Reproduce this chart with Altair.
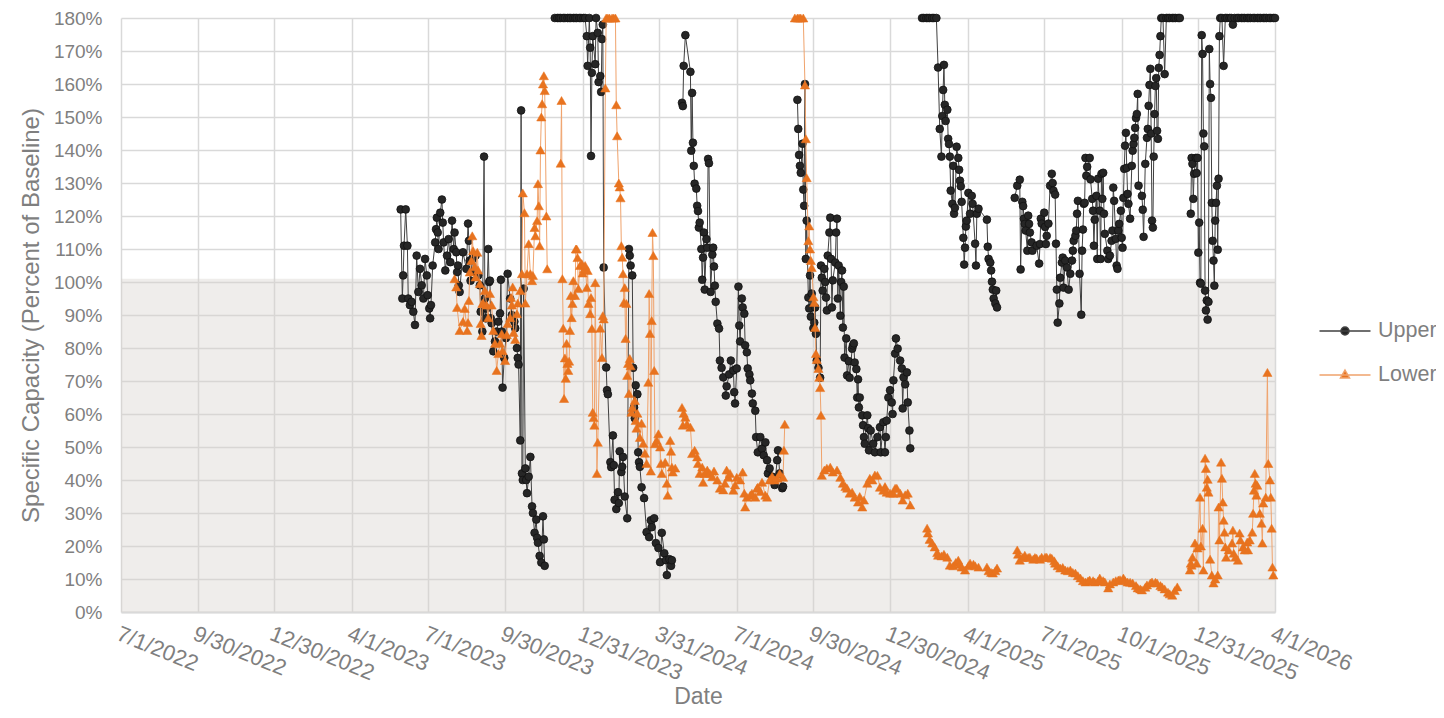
import altair as alt
import pandas as pd

BASE = pd.Timestamp("2022-07-01")

# ---- axis ticks ----
tick_dates = ["2022-07-01", "2022-09-30", "2022-12-30", "2023-04-01", "2023-07-01",
              "2023-09-30", "2023-12-31", "2024-03-31", "2024-07-01", "2024-09-30",
              "2024-12-30", "2025-04-01", "2025-07-01", "2025-10-01", "2025-12-31",
              "2026-04-01"]
y_ticks = list(range(0, 181, 10))
series_names = ["Upper", "Lower"]
band_lo = [0]
band_hi = [101]

# ---- Upper series (days since 2022-07-01, percent of baseline), one pair per unbroken run ----
u1_days = [332, 334, 335, 336, 338, 340, 341, 343, 345, 347, 349, 351, 353, 355, 357, 359, 361, 363, 364, 366,
           367, 368, 370, 373, 374, 375, 376, 377, 379, 381, 382, 383, 385, 387, 389, 391, 393, 395, 396, 398,
           399, 400, 401, 402, 406, 410, 412, 413, 414, 415, 417, 419, 421, 424, 426, 427, 429, 431, 432, 433,
           434, 436, 437, 438, 439, 440, 442, 444, 446, 448, 450, 451, 452, 453, 455, 457, 459, 462, 464, 467,
           468, 470, 471, 472, 474, 475, 476, 477, 478, 480, 481, 482, 484, 486, 488, 489, 491, 493, 494, 495,
           497, 499, 501, 502, 503]
u1_vals = [122, 95, 102, 111, 122, 111, 95, 93, 94, 91, 87, 108, 97, 104, 99, 95, 107, 102, 96, 92,
           89, 93, 105, 112, 116, 119.5, 115, 110, 121, 125, 118, 112, 103.5, 108, 113, 106, 118.6, 110, 115, 109,
           103, 105, 99, 97, 109, 104, 117.7, 112.5, 106.5, 100.4, 107, 103, 108, 102, 99, 91, 85, 138, 95, 89,
           92, 110, 100, 100.4, 89, 87.5, 79, 82, 85, 88, 90.5, 100.7, 85, 68, 77, 83, 102.5, 95, 90, 88,
           86, 80, 77, 75, 52, 152, 42, 40, 98, 43.5, 40, 36, 41, 47, 32, 30, 24, 28, 22.5, 21,
           17, 15, 29, 22, 14]

u2_days = [515, 518, 520, 522, 525, 527, 530, 532, 534, 537, 539, 541, 544, 546, 549, 551,
           553, 554, 556, 557, 558, 559, 560, 563, 564, 566, 567, 569, 570, 571, 572, 573, 576, 577, 578, 581,
           582, 584, 585, 586, 588, 590, 591, 592, 594, 595, 596, 598, 601, 603, 604, 605, 607, 608, 609, 610,
           611, 613, 614, 615, 616, 618, 621, 624, 627, 629, 630, 633, 635, 638, 640, 642, 645, 647, 648, 651,
           653, 654]
u2_vals = [180, 180, 180, 180, 180, 180, 180, 180, 180, 180, 180, 180, 180, 180, 180, 180,
           174.5, 165.5, 180, 171, 138.2, 163.4, 174.5, 166, 180, 175.5, 160.6, 162.4, 157.6, 173.6, 178, 104.4,
           74.1, 67.2, 66, 45.4, 43.9, 53.5, 44.5, 34, 31.2, 36.3, 33, 48.7, 42.4, 44, 47, 35, 28.4, 110,
           108, 105, 102, 74, 62, 58.7, 68.7, 66, 48.4, 45.4, 44, 37.8, 34.5, 24.2, 22.7, 27.8, 25.7, 28.4,
           20.9, 19.4, 15.1, 24, 17.8, 15.7, 11.2, 16, 14, 15.7]

u3_days = [666, 667, 668, 670, 676, 677, 678, 679, 680, 681, 683, 684, 685, 686, 687, 689, 690, 691, 692, 693,
           695, 696, 697, 698, 700, 702, 703, 704, 705, 706, 708, 710, 711, 713, 715, 718, 719, 722, 724, 727,
           728, 729, 731, 733, 734, 735, 737, 738, 740, 741, 743, 744, 746, 747, 749, 750, 753, 754, 756, 759,
           761, 763, 765, 767, 768, 770, 773, 776, 779, 780, 782, 785, 786]
u3_vals = [154.3, 153.3, 165.5, 174.8, 163.7, 139.8, 157.3, 142.2, 135.2, 129.8, 128.3, 123.1, 121.5, 116.5, 118,
           110, 100.7, 107.4, 115, 97.7, 113, 110.4, 137.3, 136, 97, 108.3, 110.4, 104.7, 98.9, 94,
           87.4, 85.9, 76.2, 74, 71.1, 65.6, 68.4, 72, 76.2, 73.2, 66.6, 63.2, 73.8, 98.6, 86.8, 82, 95, 92.3,
           90.4, 80.8, 78.7, 73.8, 72, 70.2, 66.2, 63.2, 61, 53, 48.4, 53, 49.5, 47.5, 51.4, 46, 42, 43.5,
           41, 38.5, 46, 49, 42, 37.5, 38]

u4_days = [803, 804, 805, 806, 807, 809, 810, 811, 812, 813, 814, 816, 817, 818, 819, 820, 822, 823, 824, 825,
           826, 828, 830, 831, 832, 833, 835, 836, 837, 838, 839, 841, 842, 843, 844, 845, 848, 849, 850, 851,
           852, 854, 855, 856, 857, 858, 859, 861, 862, 864, 865, 868, 869, 870, 871, 873, 874, 875, 876, 877,
           880, 881, 882, 883, 886, 887, 888, 890, 893, 895, 898, 901, 902, 905, 907, 908, 909, 911, 913, 915,
           916, 917, 919, 920, 922, 925, 927, 928, 929, 931, 933, 934, 936, 937]
u4_vals = [155.2, 146.4, 138.5, 135.2, 133.1, 141.9, 128, 123.1, 160, 107, 118.6, 95.3, 92, 102, 89.5, 96.5,
           86, 87.7, 92.3, 84.3, 76.2, 74, 71, 105, 101.3, 97.4, 104, 100, 95.3, 91.4, 108, 115, 119.5, 107,
           92.3, 100.5, 105.9, 115, 119.2, 95, 105, 89.8, 100, 103.5, 86.2, 98.6, 77.1, 82.9, 71.7, 76,
           71, 79.8, 80.8, 81.4, 75.6, 73.6, 65, 70.5, 62, 65, 59.6, 56.6, 53, 51, 59.6, 55.7, 49, 55, 51, 48.4,
           53, 56, 48.4, 57.5, 48.4, 53, 58, 65, 67.2, 63.5, 60, 70.2, 78.3, 82.9, 79.8, 76.2, 73.8, 61.7,
           71.1, 69, 72.6, 63.5, 55, 49.6]

u5_days = [951, 953, 956, 958, 960, 963, 965, 968, 970, 972, 974, 975, 976, 977, 978, 979, 981, 982, 983, 984,
           985, 987, 988, 989, 990, 992, 994, 995, 996, 997, 998, 1000, 1001, 1002, 1003, 1004, 1006, 1008,
           1010, 1011, 1014, 1015, 1016, 1018, 1028, 1029, 1030, 1032, 1033, 1034, 1035, 1036, 1038, 1039, 1040]
u5_vals = [180, 180, 180, 180, 180, 180, 180, 180, 165, 146.4, 138, 150.3, 158.2, 165.8, 153.7, 148.8, 152.2,
           143.4, 141.8, 138, 127.7, 123.7, 135.2, 120.7, 122.5, 141, 137.6, 134, 130.7, 129, 124.3, 113.4,
           105.3, 110.4, 116.8, 118.6, 127, 120.7, 126.1, 123.7, 111.6, 105, 120.7, 122.2, 118.9, 110.7, 107,
           105.9, 103.5, 100.1, 97.7, 95, 93.5, 97.4, 92.3]

u6_days = [1061, 1064, 1067, 1068, 1070, 1071, 1072, 1073, 1074, 1076,
           1077, 1078, 1079, 1081, 1082, 1087, 1090, 1091, 1092, 1093,
           1096, 1097, 1098, 1099, 1101, 1103, 1105, 1106, 1107, 1109,
           1110, 1111, 1112, 1114, 1115, 1117, 1118, 1119, 1121, 1123,
           1125, 1127, 1129, 1130, 1131, 1133, 1134, 1135, 1136, 1138,
           1140, 1141, 1142, 1143, 1144, 1145, 1146, 1147, 1150, 1151,
           1153, 1154, 1155, 1156, 1158, 1159, 1160, 1162, 1163, 1164,
           1165, 1166, 1167, 1168, 1171, 1172, 1174, 1176, 1177, 1178,
           1179, 1181, 1182, 1183, 1184, 1185, 1187, 1188, 1189, 1190,
           1191, 1192, 1193, 1194, 1195, 1196, 1198, 1200, 1201, 1202,
           1203, 1204, 1205, 1206, 1207, 1208, 1212, 1213, 1214, 1216,
           1218, 1219, 1220, 1221, 1222, 1223, 1224, 1225, 1226, 1227,
           1228, 1229, 1230, 1231, 1232, 1233, 1234, 1235, 1237, 1239,
           1241, 1243, 1245, 1248, 1250, 1252, 1255, 1257]
u6_vals = [125.5, 129.2, 131, 103.8, 124.3, 123, 119.2, 117.6, 115.6, 109.5,
           120.1, 117.6, 115, 112, 109.5, 111, 105.6, 111.5, 119.2, 117.7,
           121, 116.7, 111.5, 114, 117.7, 129.2, 132.8, 130, 127.7, 126.5,
           111.6, 97.7, 87.7, 93.5, 101.3, 105.9, 107.4, 98.3, 106.5, 104.4,
           97.7, 102.5, 106.5, 109.5, 112.5, 114, 115.6, 120.7, 124.6, 102.5,
           90.1, 109.5, 115.9, 123.7, 124, 137.6, 132.2, 134.9, 137.6, 131.1,
           125.2, 121.6, 111, 118.9, 126.1, 107, 131.3, 121.6, 107, 132.8,
           125.2, 133.1, 120.7, 114.6, 109.5, 107, 108, 112.5, 115.6, 128.6,
           124.6, 113.1, 105, 104, 115.6, 117.6, 121.6, 113.4, 110.4, 125.5,
           134.3, 141.3, 145.2, 134.6, 126.7, 123.7, 119.2, 135.2, 139.8, 141.8,
           143.7, 146.7, 149.7, 150.9, 157, 129.2, 126.1, 121.9, 113.7, 135.8,
           143.7, 146.4, 153.4, 159.7, 164.6, 145, 118.6, 116.5, 138, 150.9,
           159.4, 161.8, 145.8, 143.4, 164.9, 168.8, 174.5, 180, 180, 163,
           180, 180, 180, 180, 180, 180, 180, 180]

u7_days = [1270, 1271, 1272, 1273, 1274, 1276, 1277, 1278, 1279, 1280,
           1281, 1282, 1283, 1284, 1285, 1286, 1287, 1288, 1289, 1290,
           1291, 1292, 1293, 1294, 1295, 1296, 1297, 1298, 1299, 1300,
           1301, 1302, 1303, 1304, 1305, 1307, 1309, 1311, 1313, 1316,
           1318, 1320, 1322, 1325, 1327, 1330, 1332, 1334, 1337, 1339,
           1341, 1344, 1346, 1349, 1351, 1353, 1356, 1358, 1360, 1363,
           1365, 1368, 1370]
u7_vals = [120.7, 137.6, 135.8, 125.2, 132.8, 137.6, 133, 137.6, 108.9, 118,
           99.8, 99.5, 174.8, 169.1, 145, 141.1, 97.4, 91.4, 94.4, 88.6,
           94, 170.6, 160, 155.8, 124, 112.5, 106.5, 98.9, 118.6, 124,
           129.2, 109.8, 131.3, 174.5, 180, 180, 165.5, 180, 180, 180,
           180, 178, 180, 180, 180, 180, 180, 180, 180, 180,
           180, 180, 180, 180, 180, 180, 180, 180, 180, 180,
           180, 180, 180]

# ---- Lower series ----
l1_days = [396, 398, 399, 402, 406, 408, 411, 412, 413, 414, 416, 417, 418, 420, 421, 423, 424, 426, 427, 428,
           429, 430, 432, 434, 436, 438, 440, 442, 444, 446, 448, 450, 452, 453, 456, 458, 459, 462, 463, 464,
           465, 466, 468, 470, 471, 474, 476, 477, 479, 480, 482, 484, 486, 488, 489, 491, 492, 494, 495, 496,
           497, 498, 499, 500, 501, 502, 503, 505, 506]
l1_vals = [101, 98.5, 92.3, 85.3, 88, 92, 85.3, 87.7, 94.4, 103, 106.5, 114, 109.5, 104.6, 101.5, 109, 103.6,
           99.5, 87.4, 83.8, 93.5, 93.6, 97.4, 93, 89.2, 96.5, 93, 85.3, 81.4, 73.2, 78.3, 81.4, 84.3, 79.2,
           76.2, 84, 87.4, 89.2, 95.3, 93, 98.5, 84.7, 82.6, 90.4, 93.6, 97.4, 102.5, 127, 121, 93.6,
           102.5, 111.6, 102.5, 100.4, 102, 116.5, 114, 118.6, 129.8, 123.1, 111, 140, 150, 154, 160, 162.5,
           158, 120, 104]

l2_days = [522, 523, 524, 525, 526, 527, 528, 529, 530, 531, 532, 533, 534, 535, 536, 537, 539, 540, 541, 542,
           543, 545, 547, 548, 550, 551, 553, 554, 555, 557, 558, 559, 560, 561, 562, 563, 565, 566, 569, 571,
           572, 573, 575, 576, 578, 580, 583, 585, 587, 588, 589, 591, 592, 593, 594, 595, 596, 597, 598, 599,
           600, 601, 602, 603, 604, 605, 606, 607, 610, 611, 612, 613, 616, 618, 620, 622, 624, 626, 627, 628,
           629, 630, 631, 632, 633, 634, 636, 638, 640, 641, 642, 646, 648, 649, 652, 653, 654, 655, 658]
l2_vals = [136, 155, 101, 86, 64.7, 77, 70.8, 81.4, 75.3, 73.2, 76, 85.3, 95.9, 89.2, 93.5, 100.4, 95.9, 110,
           110, 107.4, 98, 105, 105.6, 102.7, 104, 105, 98.3, 103.5, 93.5, 90.4, 95.3, 85.9, 60.5, 58.9, 56.6,
           99.8, 42, 51.4, 86, 77.1, 89.8, 88.8, 158.8, 180, 180, 180, 180, 180, 180, 153.7,
           144.3, 130, 128.8, 125.5, 111, 107.5, 102.5, 93.8, 98.3, 82.9, 93.5, 71.7, 75.3, 66.2, 76.8, 74.6,
           60.5, 62, 64.1, 58, 55.7, 60.2, 52.9, 57.2, 51.1, 48.1, 45, 69.6, 96.5, 84.4,
           42.7, 88.3, 115, 108, 73.2, 51, 52, 54, 50, 45, 42, 45.4, 39, 35.4, 52, 48.7, 43.9, 42.4, 43.6]

l3_days = [666, 667, 668, 670, 672, 676, 678, 681, 684, 685, 687, 690, 691, 693, 696, 699, 702, 704, 708, 711,
           715, 717, 719, 721, 723, 727, 729, 731, 735, 738, 740, 741, 743, 747, 749, 753, 755, 756, 759, 761,
           765, 767, 770, 773, 776, 779, 782, 786, 787, 788]
l3_vals = [62, 56.6, 60.2, 59, 57, 56, 48, 49, 47, 45, 42, 43.9, 39.3, 42, 43, 42, 41, 42.7, 40, 37.5,
           37, 39, 43, 40.8, 42, 36.9, 38.5, 40.8, 40, 42.4, 36, 31.8, 34.8, 35.4, 36, 34.8, 37.5, 37.8, 36.5,
           39.3, 35.4, 34.8, 40, 41.1, 40, 40.5, 42, 40.8, 49, 56.9]

l4_days = [800, 803, 805, 807, 810, 812, 813, 814, 816, 817, 818, 819, 820, 822, 823, 824, 825, 826, 828, 829,
           830, 831, 832, 835, 838, 842, 845, 850, 854, 857, 860, 862, 865, 868, 871, 875, 877, 880, 882, 886,
           889, 892, 895, 898, 901, 905, 907, 909, 913, 917, 919, 921, 925, 928, 931, 934, 937]
l4_vals = [180, 180, 180, 180, 180, 159.7, 143.4, 131.6, 112.5, 117, 110, 106.5, 104.4, 95.5, 93.8, 86.2, 78.3,
           76.5, 73.8, 71.1, 68, 59.6, 41.4, 43, 43.6, 43.9, 42.4, 43, 40.8, 39, 38, 37.5, 36, 36.3, 34.8,
           33.3, 35, 31.8, 33.9, 39, 40.5, 40, 41.5, 41.4, 37.8, 36.9, 38, 36.3, 36, 36, 37.5, 37.5, 36, 33.9,
           35.5, 36, 32.4]

l5_days = [957, 958, 960, 963, 966, 969, 970, 974, 977, 981, 984, 988, 991, 994, 996, 998, 1002, 1006, 1008,
           1012, 1014, 1018]
l5_vals = [25.4, 23.9, 22, 20.9, 19.7, 18, 17.2, 17, 17.5, 16.6, 14.2, 14, 15, 15.7, 14.5, 13.6, 12.7, 14,
           14.8, 14.5, 14, 13.6]

l6_days = [1028, 1030, 1033, 1035, 1038, 1040]
l6_vals = [13.6, 12.5, 12, 11.8, 12.5, 13.3]

l7_days = [1064, 1065, 1067, 1070, 1073, 1077, 1079, 1083, 1085, 1087,
           1091, 1093, 1097, 1099, 1103, 1105, 1108, 1109, 1112, 1115,
           1118, 1121, 1124, 1127, 1130, 1133, 1136, 1139, 1142, 1145,
           1148, 1150, 1154, 1156, 1160, 1162, 1166, 1168, 1172, 1174,
           1178, 1181, 1184, 1186, 1190, 1192, 1195, 1198, 1201, 1205,
           1207, 1210, 1212, 1216, 1218, 1222, 1224, 1228, 1230, 1234,
           1236, 1239, 1243, 1245, 1248, 1251, 1254]
l7_vals = [18.8, 17.5, 15.7, 16.5, 17.2, 16.5, 16.6, 16, 16.5, 16.3,
           16, 16.6, 16.6, 16.6, 16.5, 16.3, 15.5, 14.8, 14, 13.3,
           13.5, 12.7, 12.5, 12.7, 12, 11.8, 11, 10.3, 9.5, 9.1,
           9.4, 9.7, 9.5, 9.1, 9.4, 10.3, 9.5, 9.1, 7.3, 8.5,
           9.1, 9.5, 9.7, 9.8, 10.3, 9.5, 9.1, 9, 8.8, 8,
           7.3, 7, 6.7, 7.5, 8.2, 8.8, 9.1, 9, 8.8, 8,
           7.6, 7, 6, 5.5, 5.1, 6.5, 7.6]

l8_days = [1269, 1270, 1271, 1272, 1275, 1277, 1278, 1281, 1282, 1284,
           1285, 1287, 1288, 1289, 1290, 1291, 1293, 1295, 1297, 1299,
           1302, 1303, 1304, 1306, 1307, 1308, 1309, 1310, 1311, 1312,
           1315, 1319, 1320, 1321, 1323, 1326, 1328, 1329, 1332, 1334,
           1337, 1338, 1340, 1343, 1344, 1345, 1346, 1347, 1348, 1349,
           1352, 1354, 1355, 1356, 1359, 1361, 1362, 1364, 1365, 1366,
           1367, 1368]
l8_vals = [12.7, 14.8, 14.2, 16.6, 20.9, 14.8, 19.4, 34.8, 20, 25.4,
           12.7, 46.6, 43.5, 37.8, 40.2, 36.3, 16, 11.2, 8.8, 10,
           11.2, 31.8, 21.8, 45.4, 40.5, 33.3, 27.8, 24.2, 19.7, 16.6,
           18.8, 20.9, 24.8, 17.8, 16.6, 15.7, 23.9, 21.8, 19.7, 18.8,
           21.2, 18.8, 21.8, 24.2, 29.9, 36.9, 42, 39, 35.4, 38.4,
           29.9, 26.9, 20.9, 33, 34.8, 72.6, 45, 40, 34.8, 25.4,
           13.6, 11.2]

upper_segments = [(u1_days, u1_vals), (u2_days, u2_vals), (u3_days, u3_vals), (u4_days, u4_vals),
                  (u5_days, u5_vals), (u6_days, u6_vals), (u7_days, u7_vals)]
lower_segments = [(l1_days, l1_vals), (l2_days, l2_vals), (l3_days, l3_vals), (l4_days, l4_vals),
                  (l5_days, l5_vals), (l6_days, l6_vals), (l7_days, l7_vals), (l8_days, l8_vals)]


def frame(segments, name):
    rows = []
    for i, (days, vals) in enumerate(segments):
        for d, v in zip(days, vals):
            rows.append({"date": (BASE + pd.Timedelta(days=d)).strftime("%Y-%m-%d"),
                         "value": v, "series": name, "seg": f"{name}-{i}"})
    return pd.DataFrame(rows)


upper_df = frame(upper_segments, "Upper")
lower_df = frame(lower_segments, "Lower")
band_df = pd.DataFrame({"start": [tick_dates[0]], "end": [tick_dates[-1]], "lo": band_lo, "hi": band_hi})


def ms(s):
    return int(pd.Timestamp(s, tz="UTC").timestamp() * 1000)


tick_ms = [ms(s) for s in tick_dates]

FONT = "Liberation Sans"
TEXT = "#7f7f7f"
GRID = "#d9d9d9"
UP_FILL = "#262626"
UP_LINE = "#404040"
LO_FILL = "#e8731f"
LO_LINE = "#f0a36c"

x_axis = alt.Axis(values=tick_ms, labelExpr="utcFormat(datum.value, '%-m/%-d/%Y')",
                  labelAngle=22, labelAlign="left", labelBaseline="top", labelPadding=11,
                  labelFontSize=22, labelColor=TEXT, labelFont=FONT, labelOverlap=False,
                  labelFlush=False, labelBound=False, ticks=False, tickSize=0,
                  domain=True, domainColor=GRID, domainWidth=2,
                  grid=True, gridColor=GRID, gridWidth=1.5,
                  title="Date", titleFontSize=23, titleColor=TEXT, titleFont=FONT,
                  titleFontWeight="normal", titlePadding=2)
y_axis = alt.Axis(values=y_ticks, labelExpr="datum.value + '%'", labelFontSize=19, labelColor=TEXT,
                  labelFont=FONT, labelPadding=19, ticks=False, tickSize=0, domain=False,
                  grid=True, gridColor=GRID, gridWidth=1.5,
                  title="Specific Capacity (Percent of Baseline)", titleFontSize=24, titleColor=TEXT,
                  titleFont=FONT, titleFontWeight="normal", titlePadding=10)

x_scale = alt.Scale(type="utc", domain=[tick_ms[0], tick_ms[-1]], nice=False)
y_scale = alt.Scale(domain=[0, 180], nice=False)

x_enc = alt.X("date:T", scale=x_scale, axis=x_axis)
y_enc = alt.Y("value:Q", scale=y_scale, axis=y_axis)

band = alt.Chart(band_df).mark_rect(color="#d8d3ce", opacity=0.4).encode(
    x=alt.X("start:T", scale=x_scale, axis=x_axis),
    x2="end:T",
    y=alt.Y("lo:Q", scale=y_scale, axis=y_axis),
    y2="hi:Q",
)

upper_line = alt.Chart(upper_df).mark_line(color=UP_LINE, strokeWidth=1).encode(
    x=x_enc, y=y_enc, detail="seg:N")
upper_pts = alt.Chart(upper_df).mark_point(shape="circle", filled=True, size=60, fill=UP_FILL,
                                           stroke="#111111", strokeWidth=0.8, opacity=1).encode(
    x=x_enc, y=y_enc)
lower_line = alt.Chart(lower_df).mark_line(color=LO_LINE, strokeWidth=1).encode(
    x=x_enc, y=y_enc, detail="seg:N")
lower_pts = alt.Chart(lower_df).mark_point(shape="triangle-up", filled=True, size=85, fill=LO_FILL,
                                           stroke=LO_FILL, strokeWidth=0.5, opacity=1).encode(
    x=x_enc, y=y_enc)

path_up = "M-2.55 0L2.55 0M0.4 0A0.4 0.4 0 1 1 -0.4 0A0.4 0.4 0 1 1 0.4 0Z"
path_lo = "M-2.55 0L2.55 0M0 -0.5L0.45 0.3L-0.45 0.3Z"

leg = alt.Legend(title=None, orient="none", legendX=1213, legendY=302, padding=0,
                 symbolSize=400, symbolStrokeWidth=1.5, labelFontSize=21.5, labelColor=TEXT,
                 labelFont=FONT, labelOffset=22, rowPadding=22)
legend_df = pd.DataFrame({"series": series_names})
legend_layer = alt.Chart(legend_df).transform_filter("false").mark_point(
    filled=True, opacity=1, strokeWidth=1.5).encode(
    fill=alt.Fill("series:N", scale=alt.Scale(domain=series_names, range=[UP_FILL, LO_FILL]), legend=leg),
    stroke=alt.Stroke("series:N", scale=alt.Scale(domain=series_names, range=[UP_LINE, LO_LINE]), legend=leg),
    shape=alt.Shape("series:N", scale=alt.Scale(domain=series_names, range=[path_up, path_lo]), legend=leg),
)

chart = alt.layer(band, upper_line, upper_pts, lower_line, lower_pts, legend_layer).properties(
    width=1154, height=594,
    autosize=alt.AutoSizeParams(type="none"),
    padding={"left": 113, "top": 10, "right": 161, "bottom": 98},
    background="white",
).configure_view(stroke=None)

chart.save("out.html", embed_options={"renderer": "svg", "actions": False})
